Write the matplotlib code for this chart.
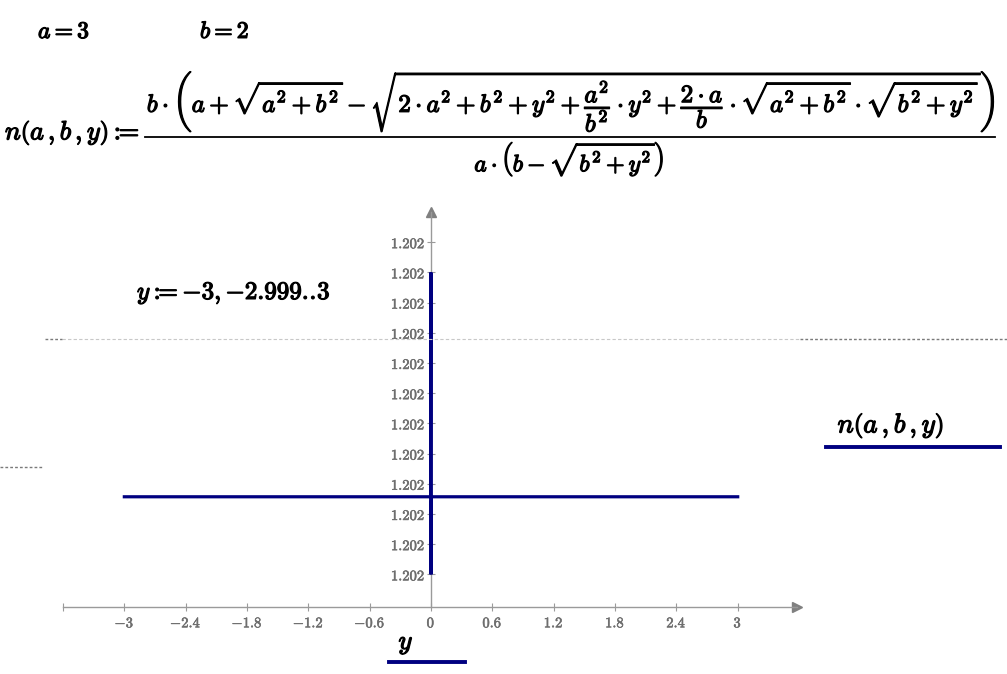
"""Mathcad-style worksheet: n(a, b, y) plotted over y in [-3, 3]."""

import matplotlib

matplotlib.use("Agg")
import matplotlib.patheffects as pe
import matplotlib.pyplot as plt
from matplotlib.lines import Line2D

W, H = 1007, 674

y_vals = [-3.0, -0.003, -0.001, 0.0, 0.001, 0.003, 3.0]
n_vals = [2.57, 2.57, 10.0, 0.0, 2.3, 2.57, 2.57]

x_ticks = [-3.6, -3.0, -2.4, -1.8, -1.2, -0.6, 0.0, 0.6, 1.2, 1.8, 2.4, 3.0]
x_tick_labels = ["", "−3", "−2.4", "−1.8", "−1.2", "−0.6", "0", "0.6", "1.2", "1.8", "2.4", "3"]
y_ticks = list(range(12))
y_tick_labels = ["1.202"] * 12

lhs = r"$n\left(a\,,b\,,y\right):\!\!\!=$"
numerator = (
    r"$b\cdot\left(a+\sqrt{a^{2}+b^{2}}-"
    r"\sqrt{2\cdot a^{2}+b^{2}+y^{2}+\dfrac{a^{2}}{b^{2}}\cdot y^{2}+"
    r"\dfrac{2\cdot a}{b}\cdot\sqrt{a^{2}+b^{2}}\cdot\sqrt{b^{2}+y^{2}}}\right)$"
)
denominator = r"$a\cdot\left(b-\sqrt{b^{2}+y^{2}}\right)$"
def_a = r"$a=3$"
def_b = r"$b=2$"
def_y = r"$y:\!\!\!={-3},{-2.999}.\!.\!3$"
legend_txt = r"$n\left(a\,,b\,,y\right)$"

CURVE = "#000080"
AXIS = "#9a9a9a"
TICK_TXT = "#6e6e6e"
MATH_FS = 17

plt.rcParams["mathtext.fontset"] = "cm"

BOLD = [pe.withStroke(linewidth=0.9, foreground="black")]
SEMI = [pe.withStroke(linewidth=0.4, foreground=TICK_TXT)]


def px(x, y):
    return x / W, 1 - y / H


def mtext(x, y, s, fs=MATH_FS, **kw):
    return fig.text(*px(x, y), s, fontsize=fs, path_effects=BOLD, **kw)


fig = plt.figure(figsize=(W / 100, H / 100), dpi=100)
ax = fig.add_axes([63 / W, 67 / H, (797 - 63) / W, (607 - 212) / H])

ax.plot(y_vals, n_vals, color=CURVE, lw=2.3, solid_joinstyle="miter", zorder=3)

ax.set_xlim(-3.6, 3.58)
ax.set_ylim(-1.08, 12.0)
for side in ("top", "right"):
    ax.spines[side].set_visible(False)
ax.spines["left"].set_position(("data", 0))
ax.spines["bottom"].set_position(("data", -1.08))
for side in ("left", "bottom"):
    ax.spines[side].set_color(AXIS)
    ax.spines[side].set_linewidth(1.0)

ax.set_xticks(x_ticks)
ax.set_xticklabels([f"${t.replace('−', '-')}$" if t else "" for t in x_tick_labels])
ax.set_yticks(y_ticks)
ax.set_yticklabels([f"${t}$" for t in y_tick_labels])
ax.tick_params(axis="both", direction="inout", length=6, width=0.8, color=AXIS,
               labelcolor=TICK_TXT, labelsize=10.5)
ax.tick_params(axis="x", pad=3)
ax.tick_params(axis="y", pad=1)
for lab in ax.get_xticklabels() + ax.get_yticklabels():
    lab.set_path_effects(SEMI)

# arrow heads at the axis ends
ax.plot(1, -1.08, ">", color="#808080", ms=7, transform=ax.get_yaxis_transform(), clip_on=False)
ax.plot(0, 1, "^", color="#808080", ms=7, transform=ax.get_xaxis_transform(), clip_on=False)

# worksheet region borders
fig.add_artist(Line2D([62 / W, 800 / W], [1 - 339 / H] * 2, color="#c8c8c8", lw=0.8, ls=(0, (3, 2))))
fig.add_artist(Line2D([45 / W, 62 / W], [1 - 339 / H] * 2, color="#7a7a7a", lw=1.0, ls=(0, (2, 1.5))))
fig.add_artist(Line2D([800 / W, 1.0], [1 - 339 / H] * 2, color="#7a7a7a", lw=1.0, ls=(0, (2, 1.5))))
fig.add_artist(Line2D([0, 42 / W], [1 - 467 / H] * 2, color="#7a7a7a", lw=1.0, ls=(0, (2, 1.5))))

# definitions
mtext(38, 38, def_a, va="baseline", ha="left")
mtext(200, 38, def_b, va="baseline", ha="left")

# n(a,b,y) := fraction, built from its parts
mtext(5, 133, lhs, fs=19, va="center", ha="left")
fig.add_artist(Line2D([145 / W, 995 / W], [1 - 137 / H] * 2, color="black", lw=1.3))
mtext(569, 134, numerator, fs=18, va="bottom", ha="center")
mtext(569, 140, denominator, va="top", ha="center")

mtext(137, 299, def_y, fs=18, va="baseline", ha="left")

# trace legend and axis label
mtext(891, 426, legend_txt, fs=19.5, va="center", ha="center")
fig.add_artist(Line2D([826 / W, 1000 / W], [1 - 447 / H] * 2, color=CURVE, lw=2.8))
mtext(406, 643, r"$y$", fs=19, va="center", ha="center")
fig.add_artist(Line2D([389 / W, 465 / W], [1 - 662 / H] * 2, color=CURVE, lw=2.8))

fig.savefig("out.png", dpi=100)
plt.close(fig)
